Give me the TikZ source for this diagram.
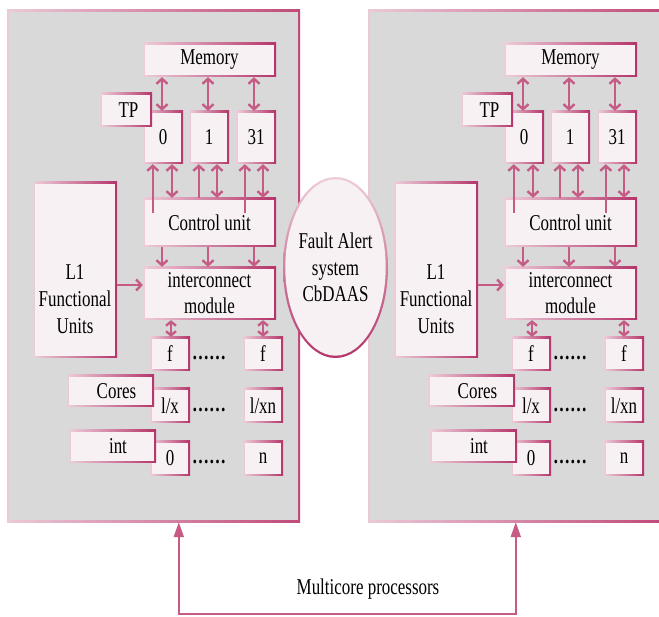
\documentclass[tikz,border=0pt]{standalone}
\usepackage{fontspec}
\setmainfont{Liberation Serif}[FakeStretch=0.75]
\usetikzlibrary{arrows.meta,calc,shapes.geometric}

\definecolor{panelgray}{HTML}{D9D9D9}
\definecolor{boxfill}{HTML}{F7F1F3}
\definecolor{edgeL}{HTML}{EDCDD9}
\definecolor{edgeD}{HTML}{B5346A}
\definecolor{panelL}{HTML}{EBCAD7}
\definecolor{panelD}{HTML}{C04A7B}
\definecolor{arr}{HTML}{C65B86}

\tikzset{
  bevel/.style={left color=edgeL, right color=edgeD, inner sep=0pt,
    path picture={\fill[#1] ([shift={(2.4pt,-2.4pt)}]path picture bounding box.north west)
      rectangle ([shift={(-2.4pt,2.4pt)}]path picture bounding box.south east);}},
  box/.style={bevel=boxfill},
  panel/.style={left color=panelL, right color=panelD, inner sep=0pt,
    minimum width=293pt, minimum height=512pt,
    path picture={\fill[panelgray] ([shift={(2pt,-2pt)}]path picture bounding box.north west)
      rectangle ([shift={(-2pt,2pt)}]path picture bounding box.south east);}},
  reg/.style={box, minimum width=40pt, minimum height=53pt},
  cell/.style={box, minimum width=40pt, minimum height=35pt},
  wide/.style={box, minimum width=133pt},
  tag/.style={box, minimum width=87pt, minimum height=33pt},
  dotrow/.style={anchor=base, font=\fontsize{22.6}{27}\selectfont\bfseries},
  link/.style={draw=arr, line width=2.4pt},
  shortlink/.style={draw=arr, line width=2.4pt, {Straight Barb[length=4pt,width=10pt]}-{Straight Barb[length=4pt,width=10pt]}},
  bus/.style={draw=arr, line width=2pt, {Triangle[length=15pt,width=10pt]}-{Triangle[length=15pt,width=10pt]}}
}

% one multicore processor block: #1 = name suffix, #2 = horizontal offset
\newcommand\cpupanel[2]{%
\begin{scope}[xshift=#2pt]
  \node[panel] (panel#1) at (153.5,266) {};
  % memory and registers
  \node[wide, minimum height=34pt] (mem#1) at (209.5,60) {Memory};
  \node[reg] (rA#1) at (163,137.5) {0};
  \node[reg] (rB#1) at (209,137.5) {1};
  \node[reg] (rC#1) at (256,137.5) {31};
  \node[box, minimum width=52pt, minimum height=34pt] (tp#1) at (126,110) {\hspace*{5pt}TP};
  \node[wide, minimum height=49pt] (ctl#1) at (209.5,222.5) {Control unit};
  \node[wide, minimum height=53pt, align=center] (icm#1) at (209.5,293.5) {interconnect\\[-1pt]module};
  \node[box, minimum width=84pt, minimum height=176pt] (lone#1) at (75,270) {};
  \node[align=center] (lonetext#1) at (75,299) {L1\\Functional\\Units};
  % functional units, cores and interrupts
  \node[cell, minimum height=34pt] (fA#1) at (170,354) {f};
  \node[cell, minimum height=34pt] (fB#1) at (263,354) {f};
  \node[dotrow] (dotsA#1) at (209,360) {……};
  \node[cell] (xA#1) at (170,405.5) {l/x};
  \node[cell] (xB#1) at (263,405.5) {l/xn};
  \node[dotrow] (dotsB#1) at (209,412) {……};
  \node[tag, minimum height=32pt] (cores#1) at (110.5,391) {\hspace*{12pt}Cores};
  \node[cell] (zA#1) at (170,458.5) {0};
  \node[cell] (zB#1) at (263,458.5) {n};
  \node[dotrow] (dotsC#1) at (209,464) {……};
  \node[tag] (int#1) at (112.5,446.5) {\hspace*{11pt}int};
  % memory <-> registers
  \draw[link,<->] ($(rA#1.north |- mem#1.south)+(-1,0)$) -- ($(rA#1.north)+(-1,0)$);
  \draw[link,<->] ($(rB#1.north |- mem#1.south)+(-1,0)$) -- ($(rB#1.north)+(-1,0)$);
  \draw[link,<->] ($(rC#1.north |- mem#1.south)+(-2,0)$) -- ($(rC#1.north)+(-2,0)$);
  % registers <-> control unit
  \draw[link,->] ($(rA#1.south west |- ctl#1.north)+(10,15)$) -- ($(rA#1.south west)+(10,0)$);
  \draw[link,<->] ($(rA#1.south)+(9,0)$) -- ($(rA#1.south |- ctl#1.north)+(9,0)$);
  \draw[link,->] ($(rB#1.south west |- ctl#1.north)+(10,0)$) -- ($(rB#1.south west)+(10,0)$);
  \draw[link,<->] ($(rB#1.south)+(8,0)$) -- ($(rB#1.south |- ctl#1.north)+(8,0)$);
  \draw[link,->] ($(rC#1.south west |- ctl#1.north)+(9,15)$) -- ($(rC#1.south west)+(9,0)$);
  \draw[link,<->] ($(rC#1.south)+(7,0)$) -- ($(rC#1.south |- ctl#1.north)+(7,0)$);
  % control unit -> interconnect
  \draw[link,->] ($(rA#1.south |- ctl#1.south)+(-1,0)$) -- ($(rA#1.south |- icm#1.north)+(-1,0)$);
  \draw[link,->] ($(rB#1.south |- ctl#1.south)+(-1,0)$) -- ($(rB#1.south |- icm#1.north)+(-1,0)$);
  \draw[link,->] ($(rC#1.south |- ctl#1.south)+(-2,0)$) -- ($(rC#1.south |- icm#1.north)+(-2,0)$);
  % L1 -> interconnect
  \draw[link,->] ($(lone#1.east |- icm#1.west)+(0,-8.5)$) -- ($(icm#1.west)+(0,-8.5)$);
  % interconnect <-> functional units
  \draw[shortlink] ($(fA#1.north |- icm#1.south)+(1,0)$) -- ($(fA#1.north)+(1,0)$);
  \draw[shortlink] (fB#1.north |- icm#1.south) -- (fB#1.north);
\end{scope}}

\begin{document}
\begin{tikzpicture}[x=1pt, y=-1pt,
    font=\fontsize{22.6}{27}\selectfont,
    >={Straight Barb[length=5pt,width=11pt]}]
  \useasboundingbox (0,0) rectangle (659,617);
  \fill[white] (0,0) rectangle (659,617);

  \cpupanel{a}{0}
  \cpupanel{b}{361}

  % fault alert system between the processors
  \node[ellipse, inner sep=0pt, minimum width=105pt, minimum height=181pt,
        top color=edgeL, bottom color=edgeD,
        path picture={\fill[boxfill] (path picture bounding box.center) ellipse (50.2pt and 88.2pt);},
        align=center, font=\fontsize{22.6}{26.5}\selectfont]
        (fault) at (335.5,267.5) {Fault Alert\\system\\CbDAAS};

  % link joining the two processors
  \draw[bus] ($(panela.south west)+(172,0)$) -- ++(0,92) -| ($(panelb.south west)+(148,0)$);
  \node (multi) at (368,589) {Multicore processors};
\end{tikzpicture}
\end{document}
